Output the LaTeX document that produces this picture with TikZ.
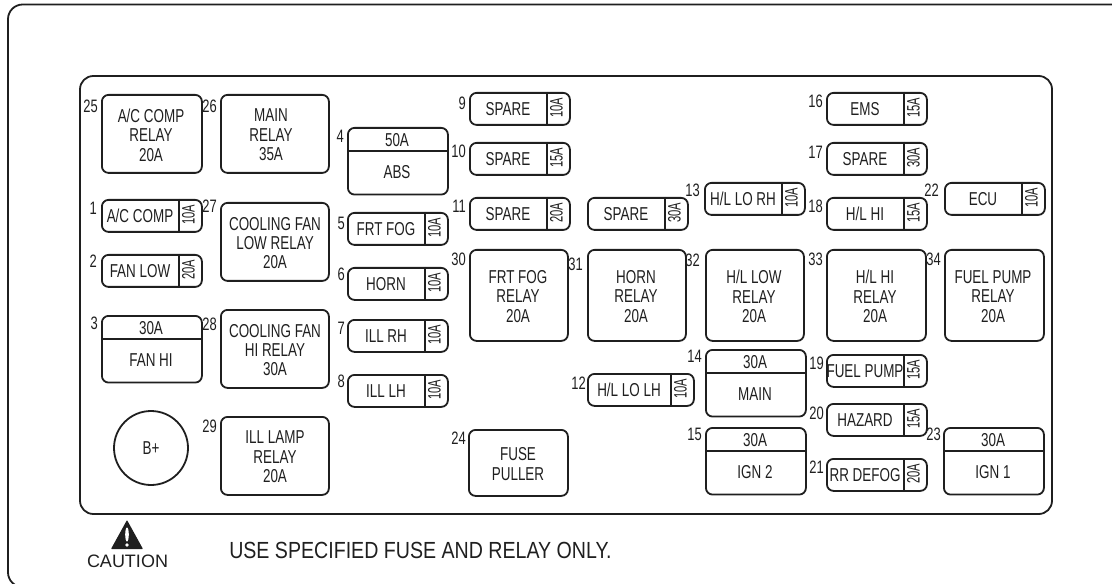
\documentclass[tikz,border=0pt]{standalone}
\usepackage{fontspec}
\setmainfont{Liberation Sans}
\newfontfamily\narrowfont[FakeStretch=0.72]{Liberation Sans}
\newfontfamily\tabfont[FakeStretch=0.62]{Liberation Sans}
\newfontfamily\noticefont[FakeStretch=0.84]{Liberation Sans}
\begin{document}
\begin{tikzpicture}[x=0.75pt,y=-0.75pt,
    every path/.style={color=black!88},
    every node/.style={color=black!88},
    panel/.style={draw, line width=1.35pt, rounded corners=11pt},
    divider/.style={line width=1.35pt},
    fusebox/.style={draw, line width=1.35pt, rounded corners=5pt, anchor=north west, inner sep=0pt},
    fusetext/.style={inner sep=0pt, align=center, font=\narrowfont\fontsize{14}{14.5}\selectfont},
    amptext/.style={inner sep=0pt, rotate=90, font=\tabfont\fontsize{13.5}{14}\selectfont},
    numtext/.style={inner sep=0pt, anchor=north east, font=\narrowfont\fontsize{13.5}{14}\selectfont}]

  \useasboundingbox (0,0) rectangle (1112,584);

  % Outer and inner panels
  \draw[panel] (8,4.5) rectangle (1130,587);
  \draw[panel, rounded corners=10pt] (80,76) rectangle (1052,514);

  % Small fuses with the rating on a side tab
  \foreach \id/\x/\y/\w/\name/\amp/\nx/\ny in {
      1/101/199/100/{A/C COMP}/10A/97/202, 2/101/254/100/{FAN LOW}/20A/97/255,
      5/347/212/100/{FRT FOG}/10A/345/217, 6/347/267/100/{HORN}/10A/345/268,
      7/347/319/100/{ILL RH}/10A/345/322, 8/347/374/100/{ILL LH}/10A/345/375,
      9/469/92/100/{SPARE}/10A/466/97, 10/469/142/100/{SPARE}/15A/466/145,
      11/469/197/100/{SPARE}/20A/466/200,
      12/587/373/106/{H/L LO LH}/10A/586/377, 13/704/182/100/{H/L LO RH}/10A/700/184,
      16/826/92/100/{EMS}/15A/823/95, 17/826/142/100/{SPARE}/30A/823/146,
      18/826/197/100/{H/L HI}/15A/823/200,
      19/826/354/100/{FUEL PUMP}/15A/824/357, 20/826/403/100/{HAZARD}/15A/824/407,
      21/826/458/100/{RR DEFOG}/20A/824/461, 22/944/182/100/{ECU}/10A/939/184}{
    \node[fusebox, minimum width=\w*0.75pt, minimum height=24pt] (f\id) at (\x,\y) {};
    \draw[divider] (\x+\w-22,\y) -- (\x+\w-22,\y+32);
    \node[fusetext] (t\id) at (\x+\w/2-11,\y+17) {\name};
    \node[amptext] (a\id) at (\x+\w-12.5,\y+16) {\amp};
    \node[numtext] (n\id) at (\nx,\ny) {\id};
  }

  % The one spare fuse without a number
  \node[fusebox, minimum width=75pt, minimum height=24pt] (fspare) at (587,197) {};
  \draw[divider] (665,197) -- (665,229);
  \node[fusetext] (tspare) at (626,214) {SPARE};
  \node[amptext] (aspare) at (674.5,213) {30A};

  % Large fuses with the rating on top
  \foreach \id/\x/\y/\name/\amp/\nx/\ny in {
      3/101/315/{FAN HI}/30A/98/317, 4/347/127/{ABS}/50A/344/130, 14/705/349/{MAIN}/30A/702/350,
      15/705/427/{IGN 2}/30A/702/428, 23/943/427/{IGN 1}/30A/941/428}{
    \node[fusebox, minimum width=75pt, minimum height=50pt] (f\id) at (\x,\y) {};
    \draw[divider] (\x,\y+24) -- (\x+100,\y+24);
    \node[fusetext] (a\id) at (\x+50,\y+13) {\amp};
    \node[fusetext] (t\id) at (\x+50,\y+45) {\name};
    \node[numtext] (n\id) at (\nx,\ny) {\id};
  }

  % Relays
  \foreach \id/\x/\y/\w/\h/\tx/\name/\nx/\ny in {
      25/101/94/100/78/151/{A/C COMP\\RELAY\\20A}/98/100, 26/220/94/108/78/271/{MAIN\\RELAY\\35A}/217/100,
      27/220/202/108/78/275/{COOLING FAN\\LOW RELAY\\20A}/217/200,
      28/220/309/108/78/275/{COOLING FAN\\HI RELAY\\30A}/217/318,
      29/220/416/108/78/275/{ILL LAMP\\RELAY\\20A}/217/420,
      30/469/249/98/91/518/{FRT FOG\\RELAY\\20A}/466/253, 31/587/249/98/91/636/{HORN\\RELAY\\20A}/583/258,
      32/705/249/98/91/754/{H/L LOW\\RELAY\\20A}/700/254, 33/826/249/99/91/875/{H/L HI\\RELAY\\20A}/823/253,
      34/944/249/99/91/993/{FUEL PUMP\\RELAY\\20A}/941/253, 24/468/429/99/66/518/{FUSE\\PULLER}/466/432}{
    \node[fusebox, minimum width=\w*0.75pt, minimum height=\h*0.75pt] (r\id) at (\x,\y) {};
    \node[fusetext] (t\id) at (\tx,\y+\h/2+2) {\name};
    \node[numtext] (n\id) at (\nx,\ny) {\id};
  }

  % Battery post
  \node[draw, circle, line width=1.35pt, minimum size=55.5pt, inner sep=0pt, font=\narrowfont\fontsize{14}{14.5}\selectfont] (bplus) at (151,448) {B+};

  % Caution mark and notice
  \fill[rounded corners=0.5pt] (127,520) -- (143,549) -- (111,549) -- cycle;
  \fill[white] (127,534.5) ellipse (1.8 and 7);
  \fill[white] (127,545) circle (1.8);
  \node[inner sep=0pt, font=\fontsize{13.5}{15}\selectfont] (caution) at (127.5,561.5) {CAUTION};
  \node[inner sep=0pt, anchor=west, font=\noticefont\fontsize{17.5}{18}\selectfont] (notice) at (229,550) {USE SPECIFIED FUSE AND RELAY ONLY.};

\end{tikzpicture}
\end{document}
